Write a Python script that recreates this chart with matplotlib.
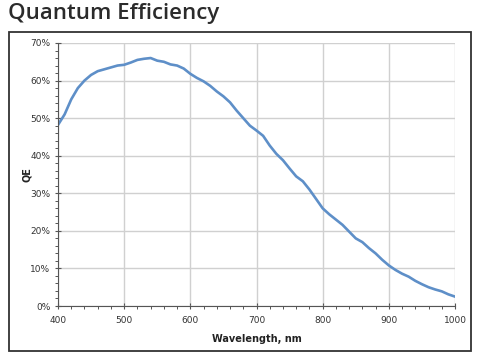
import matplotlib
matplotlib.use("Agg")
from matplotlib import pyplot as plt
from matplotlib.patches import Rectangle
from matplotlib.ticker import MultipleLocator, FuncFormatter

# wavelength in nm, QE in percent
wavelength = [400, 410, 420, 430, 440, 450, 460, 470, 480, 490,
              500, 510, 520, 530, 540, 550, 560, 570, 580, 590,
              600, 610, 620, 630, 640, 650, 660, 670, 680, 690,
              700, 710, 720, 730, 740, 750, 760, 770, 780, 790,
              800, 810, 820, 830, 840, 850, 860, 870, 880, 890,
              900, 910, 920, 930, 940, 950, 960, 970, 980, 990, 1000]
qe = [48.2, 51.0, 55.0, 58.0, 60.0, 61.5, 62.5, 63.0, 63.5, 64.0,
      64.2, 64.8, 65.5, 65.8, 66.0, 65.3, 65.0, 64.3, 64.0, 63.2,
      61.8, 60.7, 59.8, 58.6, 57.1, 55.8, 54.2, 52.0, 50.0, 48.0,
      46.7, 45.3, 42.7, 40.5, 38.8, 36.6, 34.5, 33.2, 31.0, 28.5,
      26.0, 24.4, 23.0, 21.6, 19.8, 18.0, 17.0, 15.4, 14.0, 12.3,
      10.8, 9.6, 8.6, 7.8, 6.7, 5.8, 5.0, 4.4, 3.9, 3.1, 2.5]

title = "Quantum Efficiency"
xlabel = "Wavelength, nm"
ylabel = "QE"

fig = plt.figure(figsize=(4.8, 3.59), dpi=100)
fig.patch.set_facecolor("white")

# outer frame around the chart
fig.patches.append(Rectangle((8.5 / 480, 1 - 351 / 359), 462.5 / 480, 319 / 359,
                             transform=fig.transFigure, fill=False,
                             edgecolor="#333333", linewidth=1.3))

fig.text(8 / 480, 1 - 13 / 359, title, fontsize=16, fontweight="semibold",
         family=["Open Sans", "DejaVu Sans"], color="#2b2b2b", va="center", ha="left")

ax = fig.add_axes([58 / 480, 1 - 306 / 359, 397 / 480, 263 / 359])
ax.plot(wavelength, qe, color="#5e8fc8", linewidth=1.9)

ax.set_xlim(400, 1000)
ax.set_ylim(0, 70)
ax.xaxis.set_major_locator(MultipleLocator(100))
ax.xaxis.set_minor_locator(MultipleLocator(20))
ax.yaxis.set_major_locator(MultipleLocator(10))
ax.yaxis.set_minor_locator(MultipleLocator(2))
ax.yaxis.set_major_formatter(FuncFormatter(lambda v, p: "%d%%" % v))

ax.grid(True, which="major", color="#d0d0d0", linewidth=1.0)
ax.set_axisbelow(True)
for s in ["top", "right"]:
    ax.spines[s].set_visible(False)
for s in ["left", "bottom"]:
    ax.spines[s].set_color("#555555")
    ax.spines[s].set_linewidth(0.8)

ax.tick_params(which="major", direction="inout", length=5, width=0.8,
               color="#555555", labelsize=6.5, labelcolor="#333333")
ax.tick_params(which="minor", direction="out", length=2.5, width=0.7, color="#555555")
ax.tick_params(axis="x", pad=5)
ax.tick_params(axis="y", pad=3)

ax.set_xlabel(xlabel, fontsize=7, fontweight="bold", color="#222222", labelpad=6)
ax.set_ylabel(ylabel, fontsize=7, fontweight="bold", color="#222222", labelpad=1)
ax.yaxis.set_label_coords(-26 / 397, 0.5)

fig.savefig("out.png", dpi=100)
